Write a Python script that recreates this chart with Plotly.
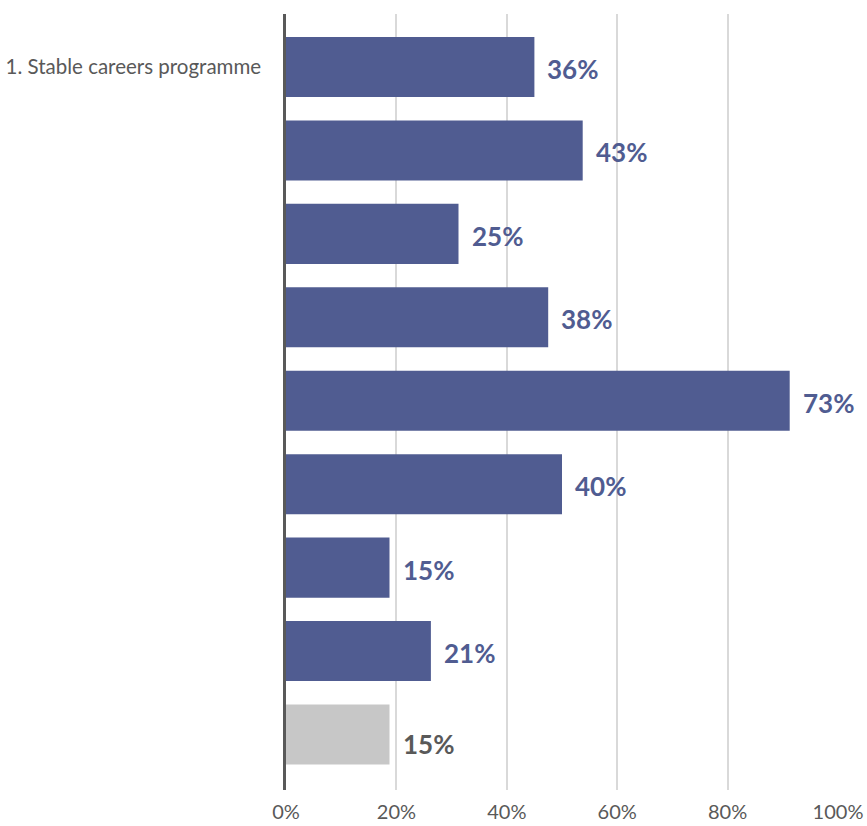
import plotly.graph_objects as go

# nine survey items, only the first one carries a label
labels = ["1. Stable careers programme", "", "", "", "", "", "", "", ""]
values = [36, 43, 25, 38, 73, 40, 15, 21, 15]
value_text = ["36%", "43%", "25%", "38%", "73%", "40%", "15%", "21%", "15%"]
tick_vals = [0, 16, 32, 48, 64, 80]
tick_text = ["0%", "20%", "40%", "60%", "80%", "100%"]

BLUE = "#505c91"
GREY_BAR = "#c7c7c7"
GREY_TXT = "#595959"
FONT = "Lato"

rows = list(range(len(values)))
bar_colors = [BLUE] * (len(values) - 1) + [GREY_BAR]
text_colors = [BLUE] * (len(values) - 1) + [GREY_TXT]

fig = go.Figure()
fig.add_trace(go.Bar(
    x=values, y=rows, orientation="h",
    marker=dict(color=bar_colors, line=dict(width=0)),
    hoverinfo="skip",
))

for r, v, t, c in zip(rows, values, value_text, text_colors):
    # the grey total label sits a little lower in the original
    dy = -9 if r == rows[-1] else -2
    fig.add_annotation(
        x=v, y=r, text="<b>%s</b>" % t, showarrow=False,
        xanchor="left", xshift=11, yshift=dy,
        font=dict(family=FONT, size=26, color=c),
    )

fig.update_layout(
    width=867, height=826,
    margin=dict(l=286, r=29, t=14, b=36, autoexpand=False),
    plot_bgcolor="white", paper_bgcolor="white",
    bargap=0.28, showlegend=False,
    xaxis=dict(
        range=[0, 80], tickvals=tick_vals, ticktext=tick_text,
        showgrid=True, gridcolor="#d9d9d9", gridwidth=1.5,
        zeroline=False, showline=False, ticks="", automargin=False,
        ticklabelstandoff=8,
        tickfont=dict(family=FONT, size=20, color=GREY_TXT),
    ),
    yaxis=dict(
        range=[8.665, -0.635], tickvals=rows, ticktext=labels,
        showgrid=False, zeroline=False, automargin=False,
        showline=True, linecolor="#595959", linewidth=2.5,
        ticks="", ticklabelstandoff=18,
        tickfont=dict(family=FONT, size=20.5, color=GREY_TXT),
    ),
)

# the page body has a default 8px margin, drop it so the figure sits at 0,0
fig.write_html("out.html", config=dict(displayModeBar=False),
               post_script="document.body.style.margin='0';")
